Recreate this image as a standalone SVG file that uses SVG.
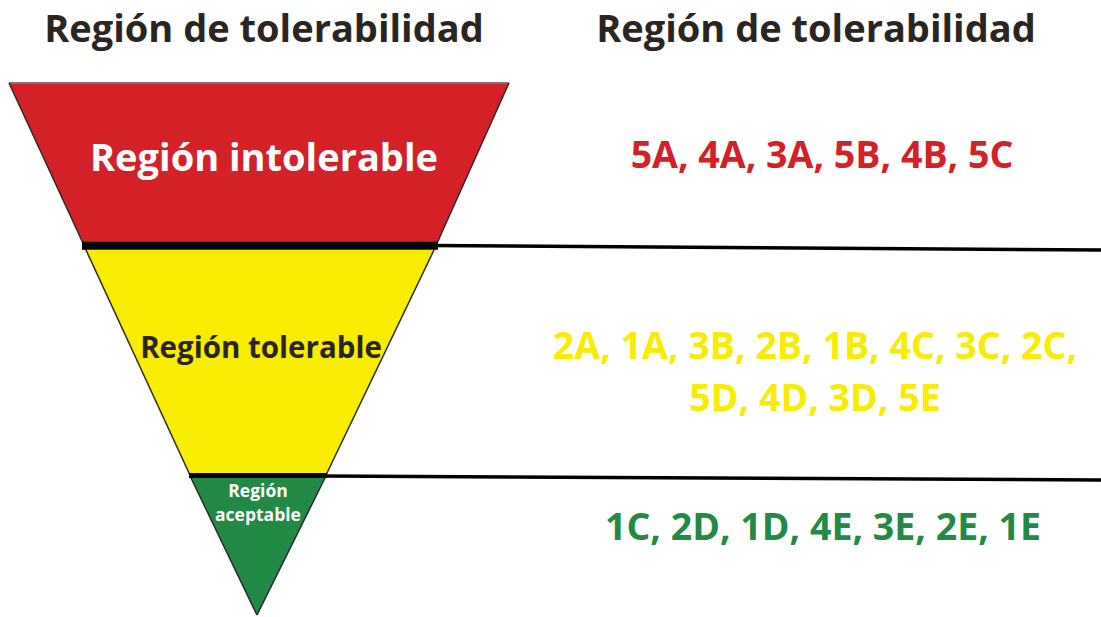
<svg xmlns="http://www.w3.org/2000/svg" width="1101" height="617" viewBox="0 0 1101 617">
<style>
text{font-family:"Open Sans","Liberation Sans",sans-serif;font-weight:700;text-anchor:middle}
.hd{font-size:38px;fill:#2b2522}
.lst{font-size:37.5px}
</style>
<rect width="1101" height="617" fill="#fff"/>
<text class="hd" x="264" y="42">Región de tolerabilidad</text>
<text class="hd" x="816" y="42">Región de tolerabilidad</text>
<g id="red">
<polygon points="9,83 509,83 438,241 82,241" fill="#d42027"/>
<line x1="9" y1="83" x2="509" y2="83" stroke="#777" stroke-width="2"/>
<text x="264" y="171" font-size="38" fill="#fff">Región intolerable</text>
</g>
<g id="yellow">
<polygon points="86,250 434,250 327,473 189,473" fill="#f8ec00"/>
<text x="261" y="358" font-size="29.5" fill="#2b2522">Región tolerable</text>
</g>
<g id="green">
<polygon points="191,478 325,478 257,615" fill="#228a44"/>
<text x="258" y="497" font-size="17.5" fill="#fff">Región</text>
<text x="258" y="521" font-size="17.5" fill="#fff">aceptable</text>
</g>
<g id="edges" fill="none" stroke="#2a2a2a" stroke-width="1.5">
<polyline points="9,83 82,241 86,250 189,473 191,478 257,615"/>
<polyline points="509,83 438,241 434,250 327,473 325,478 257,615"/>
</g>
<g id="connectors" stroke="#000">
<line x1="82" y1="245.5" x2="438" y2="245.5" stroke-width="8.5"/>
<line x1="189" y1="475.5" x2="327" y2="475.5" stroke-width="5"/>
<line x1="432" y1="245.5" x2="1101" y2="250" stroke-width="3.5"/>
<line x1="322" y1="476" x2="1101" y2="480" stroke-width="3.5"/>
</g>
<g id="lists" class="lst">
<text x="822" y="168" fill="#d42027">5A, 4A, 3A, 5B, 4B, 5C</text>
<text x="815" y="359" fill="#f8ec00">2A, 1A, 3B, 2B, 1B, 4C, 3C, 2C,</text>
<text x="815" y="411" fill="#f8ec00">5D, 4D, 3D, 5E</text>
<text x="823" y="540" fill="#228a44">1C, 2D, 1D, 4E, 3E, 2E, 1E</text>
</g>
</svg>
